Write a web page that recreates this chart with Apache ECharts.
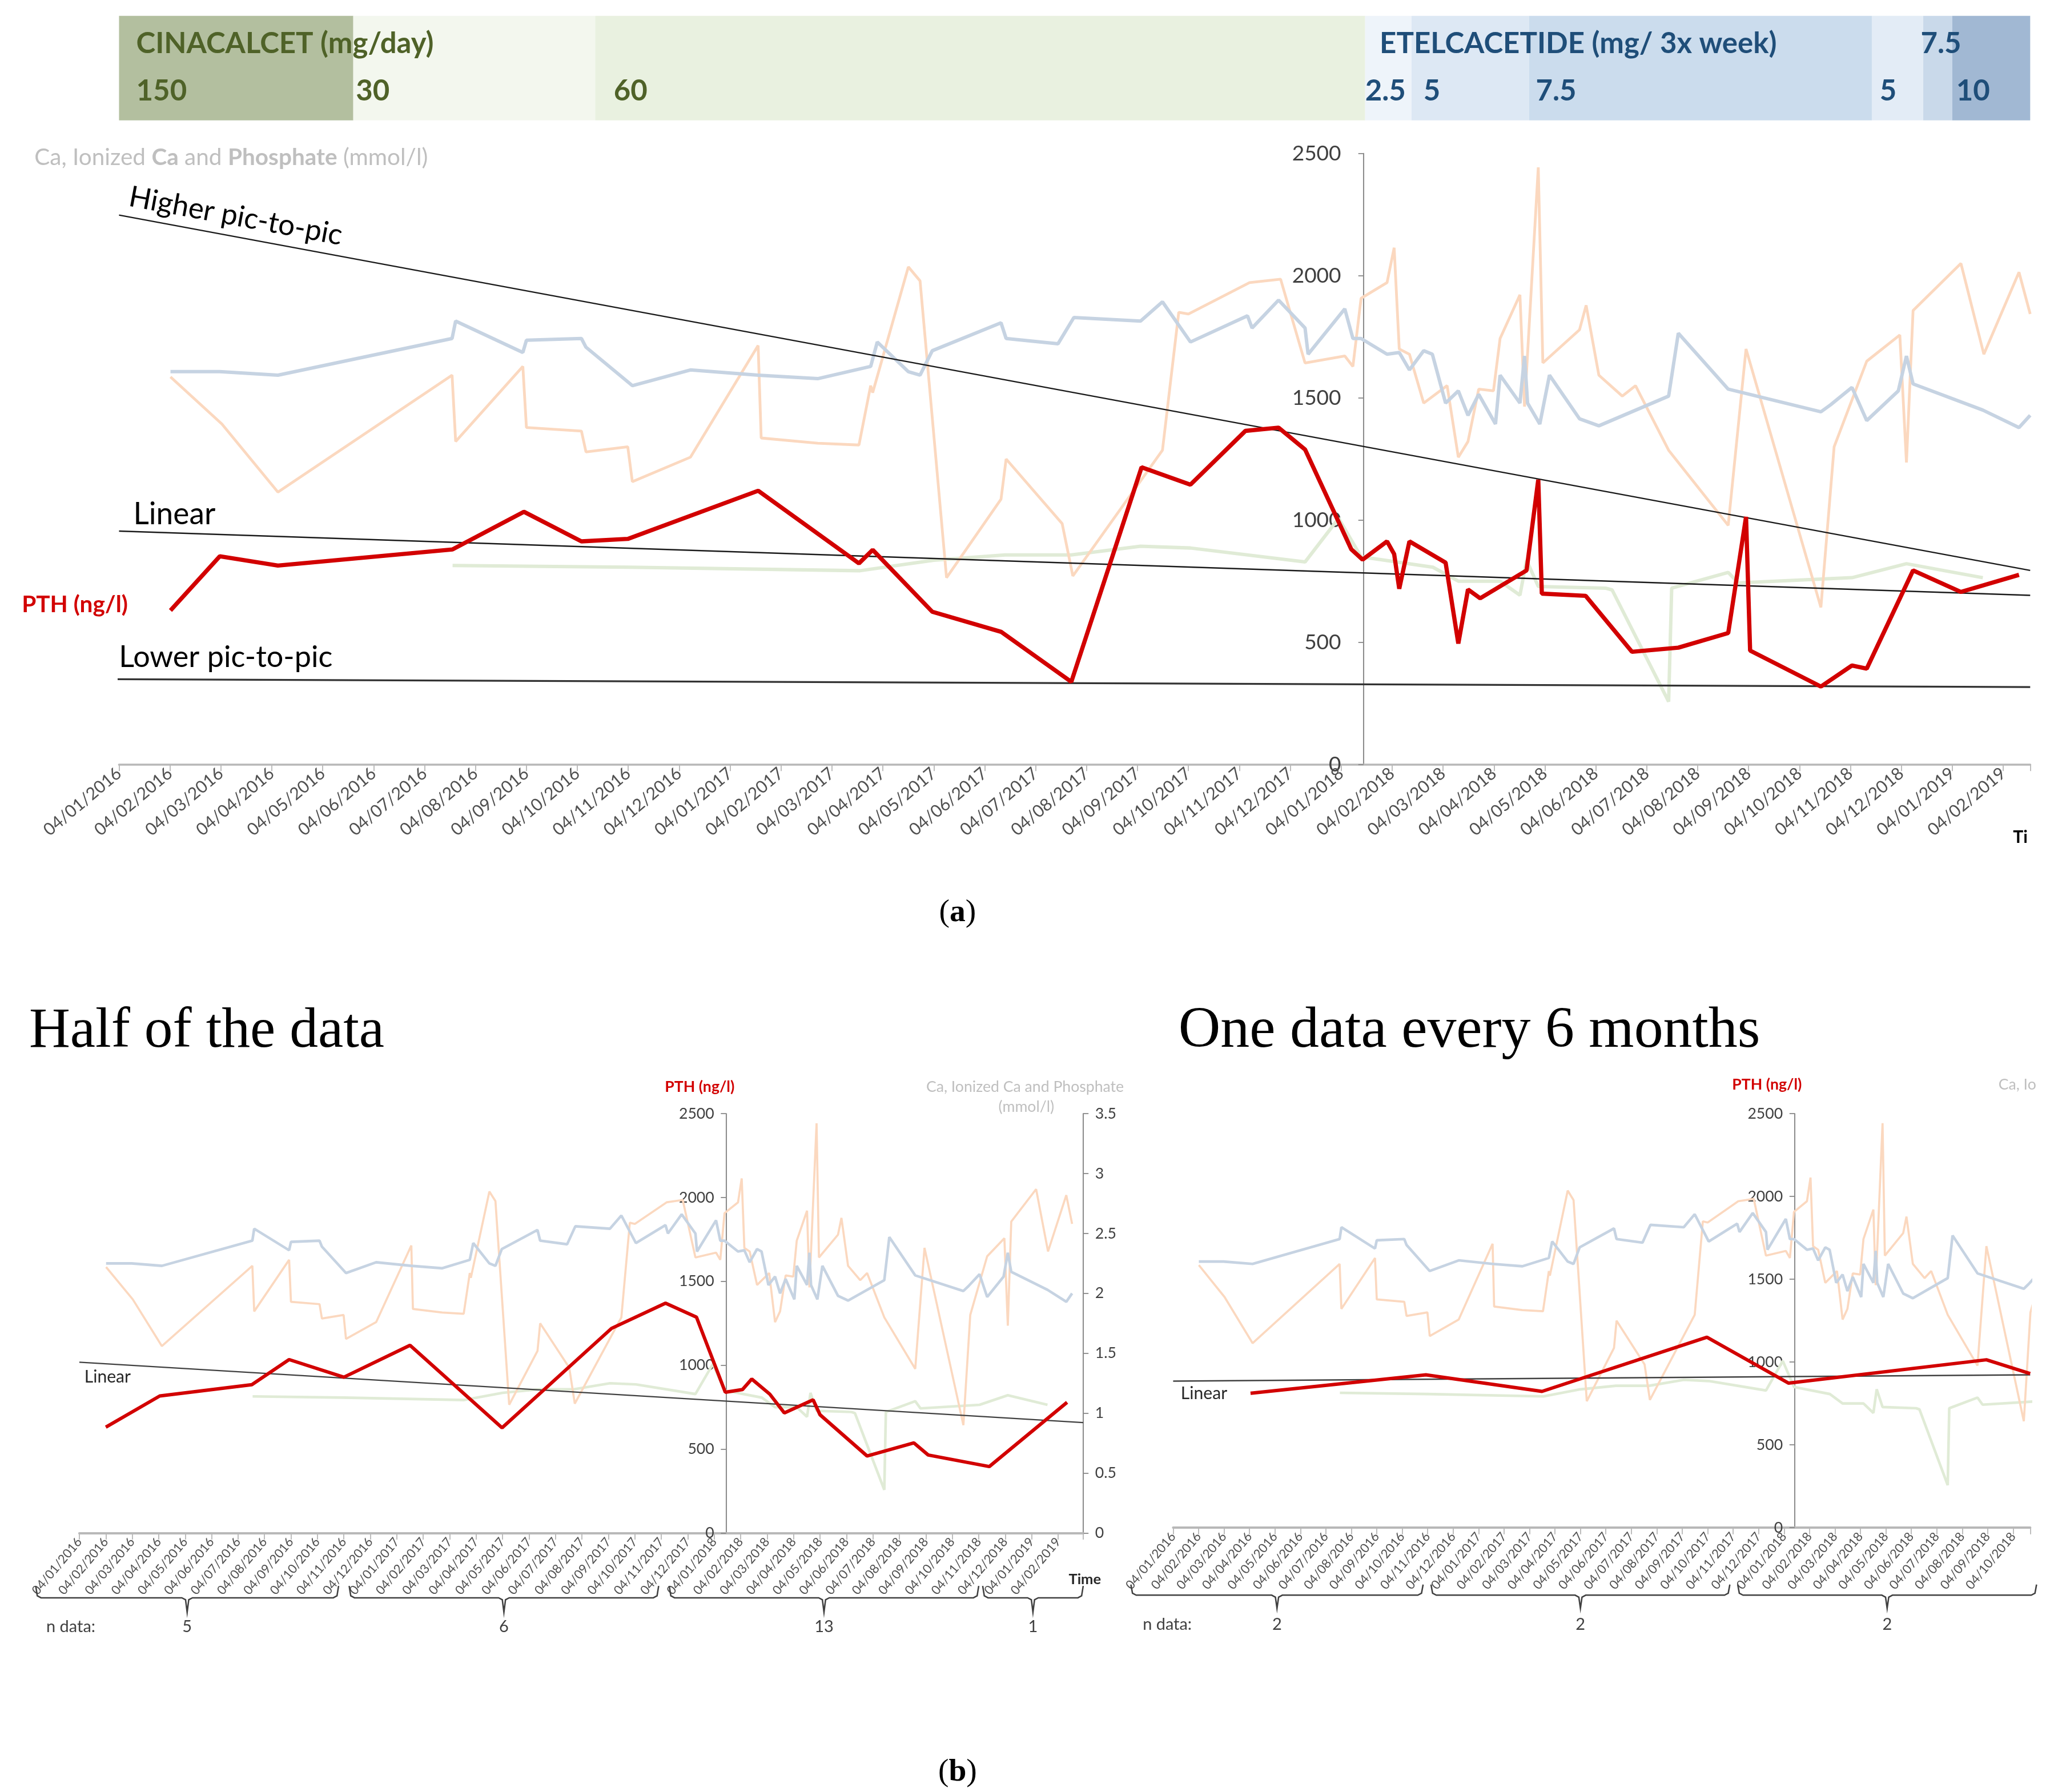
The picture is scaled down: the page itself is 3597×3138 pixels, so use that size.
<!DOCTYPE html>
<html>
<head>
<meta charset="utf-8">
<title>PTH, Ca and phosphate over time</title>
<script src="https://cdn.jsdelivr.net/npm/echarts/dist/echarts.min.js"></script>
<style>html,body{margin:0;padding:0;background:#fff;}#chart{width:3597px;height:3138px;}</style>
</head>
<body>
<div id="chart"></div>
<script>
// ---------------- data (x = months since 04/01/2016) ----------------
const monthTicks = [
  '04/01/2016','04/02/2016','04/03/2016','04/04/2016','04/05/2016','04/06/2016','04/07/2016','04/08/2016','04/09/2016','04/10/2016','04/11/2016','04/12/2016',
  '04/01/2017','04/02/2017','04/03/2017','04/04/2017','04/05/2017','04/06/2017','04/07/2017','04/08/2017','04/09/2017','04/10/2017','04/11/2017','04/12/2017',
  '04/01/2018','04/02/2018','04/03/2018','04/04/2018','04/05/2018','04/06/2018','04/07/2018','04/08/2018','04/09/2018','04/10/2018','04/11/2018','04/12/2018',
  '04/01/2019','04/02/2019'
];
const pthTicks = [0, 500, 1000, 1500, 2000, 2500];
const mmolTicks = [0, 0.5, 1, 1.5, 2, 2.5, 3, 3.5];

const doseBounds = [0, 4.6, 9.35, 24.47, 25.38, 27.69, 34.42, 35.43, 36.0, 37.53];
const doseLabels = ['150', '30', '60', '2.5', '5', '7.5', '5', '7.5', '10'];
const drugNames = ['CINACALCET (mg/day)', 'ETELCACETIDE (mg/ 3x week)'];
const drugFirstSegment = [0, 3];

const pthAll = [[1.01,630],[1.98,852],[3.12,814],[6.55,880],[7.95,1034],[9.08,913],[9.99,923],[12.55,1120],[14.53,823],[14.8,878],[15.97,625],[17.32,543],[18.7,338],[20.08,1216],[21.04,1145],[22.12,1365],[22.77,1378],[23.29,1289],[24.2,880],[24.42,838],[24.9,913],[25.04,861],[25.14,719],[25.34,913],[26.05,826],[26.3,495],[26.49,716],[26.73,680],[27.64,794],[27.87,1165],[27.94,699],[28.8,690],[29.71,461],[30.62,478],[31.6,538],[31.95,1013],[32.03,466],[33.42,319],[34.03,405],[34.32,392],[35.23,794],[36.17,706],[37.31,776]];
const pthHalf = [[1.0,631],[3.04,817],[6.52,884],[7.93,1034],[10.0,929],[12.5,1119],[15.98,627],[20.12,1220],[22.16,1370],[23.33,1287],[24.42,839],[25.07,855],[25.42,918],[26.1,828],[26.65,716],[27.74,794],[28.0,705],[29.78,459],[31.55,537],[32.09,465],[34.4,396],[37.34,779]];
const pthSemester = [[3.04,812],[9.93,923],[14.49,823],[20.97,1150],[24.18,873],[31.95,1014],[33.67,930]];

const totalCa = [[1.01,2.25],[1.98,2.25],[3.12,2.23],[6.54,2.44],[6.61,2.54],[7.93,2.36],[8.0,2.43],[9.08,2.44],[9.17,2.39],[10.08,2.17],[11.22,2.26],[12.55,2.23],[13.72,2.21],[14.76,2.28],[14.89,2.42],[15.5,2.25],[15.73,2.23],[15.97,2.37],[17.32,2.53],[17.42,2.44],[18.44,2.41],[18.75,2.56],[20.06,2.54],[20.49,2.65],[21.04,2.42],[22.16,2.57],[22.25,2.5],[22.77,2.66],[23.29,2.5],[23.35,2.35],[24.07,2.61],[24.23,2.44],[24.39,2.44],[24.9,2.35],[25.14,2.36],[25.34,2.26],[25.62,2.37],[25.79,2.35],[26.05,2.07],[26.3,2.14],[26.49,2.0],[26.7,2.12],[27.03,1.95],[27.12,2.23],[27.51,2.07],[27.6,2.34],[27.66,2.07],[27.9,1.95],[28.09,2.23],[28.68,1.98],[29.06,1.94],[30.43,2.11],[30.62,2.47],[31.6,2.15],[33.42,2.02],[33.61,2.06],[34.03,2.16],[34.32,1.97],[34.94,2.14],[35.1,2.34],[35.23,2.18],[36.6,2.03],[37.31,1.93],[37.53,2.0]];
const phosphate = [[1.01,2.22],[2.02,1.95],[3.12,1.56],[6.54,2.23],[6.61,1.85],[7.93,2.28],[8.0,1.93],[9.08,1.91],[9.17,1.79],[9.99,1.82],[10.08,1.62],[11.22,1.76],[12.55,2.4],[12.61,1.87],[13.72,1.84],[14.53,1.83],[14.76,2.17],[14.8,2.13],[15.5,2.85],[15.73,2.77],[16.25,1.07],[17.32,1.52],[17.42,1.75],[18.52,1.38],[18.73,1.08],[20.49,1.8],[20.81,2.59],[21.0,2.58],[22.2,2.76],[22.81,2.78],[23.29,2.3],[24.07,2.34],[24.23,2.28],[24.39,2.67],[24.9,2.76],[25.04,2.96],[25.14,2.38],[25.34,2.35],[25.62,2.07],[26.08,2.17],[26.3,1.76],[26.49,1.85],[26.7,2.15],[26.99,2.14],[27.12,2.44],[27.51,2.69],[27.6,2.05],[27.87,3.42],[27.96,2.3],[28.68,2.49],[28.81,2.63],[29.06,2.23],[29.52,2.11],[29.78,2.17],[30.43,1.8],[31.6,1.37],[31.95,2.38],[33.42,0.9],[33.68,1.82],[34.32,2.31],[34.97,2.46],[35.1,1.73],[35.23,2.6],[36.17,2.87],[36.62,2.35],[37.31,2.82],[37.53,2.58]];
const ionizedCa = [[6.55,1.14],[10.0,1.13],[14.55,1.11],[16.0,1.17],[17.4,1.2],[18.7,1.2],[20.06,1.25],[21.04,1.24],[23.29,1.16],[23.95,1.41],[24.39,1.19],[25.8,1.13],[26.3,1.05],[27.12,1.05],[27.51,0.97],[27.64,1.17],[27.87,1.02],[29.19,1.01],[29.32,1.0],[30.43,0.36],[30.49,1.01],[31.6,1.1],[31.8,1.04],[34.03,1.07],[35.1,1.15],[36.6,1.07]];

const higherTrend = [[0,2248],[37.53,794]];
const linearTrend = [[0,955],[37.53,692]];
const lowerTrend = [[-0.36,349],[37.53,317]];
const halfLinear = [[0,1018],[37.95,658]];
const semesterLinear = [[0,885],[33.67,923]];

const halfBraceFrom = [-1.65, 10.2, 22.3, 34.15];
const halfBraceTo = [9.8, 21.9, 34.0, 37.95];
const halfCounts = ['5', '6', '13', '1'];
const semBraceFrom = [-1.66, 10.13, 22.18];
const semBraceTo = [9.82, 21.87, 33.92];
const semCounts = ['2', '2', '2'];

// ---------------- styling ----------------
const S = 3597 / 1553;
const px = v => v * S;
const FONT = 'Lato, "Open Sans", "Noto Sans", sans-serif';
const SERIF = '"Liberation Serif", "DejaVu Serif", serif';
const doseColors = ['#b3bf9f', '#f3f7ee', '#e9f1e0', '#eef4fa', '#dde8f4', '#cbdced', '#e3ecf6', '#c9d9ea', '#a1b8d3'];
const doseLabelPad = [13, 2, 14, 0, 9, 5, 6, -2, 3];   // label inset from segment start (layout)
const C = { pth: '#d20000', ca: '#c6d3e2', phos: '#fbd8bf', ion: '#e0ebd6', axis: '#8c8c8c', xaxis: '#b8b8b8', text: '#404040', faint: '#bfbfbf' };

const tickLabel = v => { const r = Math.round(v); return (Math.abs(v - r) < 1e-6 && monthTicks[r]) ? monthTicks[r] : ''; };
const plainNum = v => String(v);

const chart = echarts.init(document.getElementById('chart'), null, { renderer: 'canvas' });

function grid(l, t, w, h) { return { left: px(l), top: px(t), width: px(w), height: px(h), containLabel: false, outerBoundsMode: 'none' }; }

function xAxisCfg(gi, max, fs, rot, lw) {
  return { type: 'value', gridIndex: gi, min: 0, max: max, interval: 1,
    axisLine: { show: true, onZero: false, lineStyle: { color: C.xaxis, width: px(lw) } },
    axisTick: { show: true, length: px(5), lineStyle: { color: C.xaxis, width: px(0.8) } },
    axisLabel: { show: true, rotate: rot, fontSize: px(fs), color: '#505050', fontFamily: FONT, margin: px(5), formatter: tickLabel, showMaxLabel: true, hideOverlap: false },
    splitLine: { show: false } };
}
function pthAxis(gi, offset, fs, margin) {
  return { type: 'value', gridIndex: gi, min: pthTicks[0], max: pthTicks[pthTicks.length - 1], interval: pthTicks[1] - pthTicks[0],
    position: 'left', offset: -px(offset),
    axisLine: { show: true, onZero: false, lineStyle: { color: C.axis, width: px(0.9) } },
    axisTick: { show: true, length: px(4), lineStyle: { color: C.axis, width: px(0.8) } },
    axisLabel: { fontSize: px(fs), color: C.text, fontFamily: FONT, margin: px(margin), formatter: plainNum },
    splitLine: { show: false } };
}
function mmolAxis(gi, visible) {
  return { type: 'value', gridIndex: gi, min: mmolTicks[0], max: mmolTicks[mmolTicks.length - 1], interval: mmolTicks[1] - mmolTicks[0],
    position: 'right', show: visible,
    axisLine: { show: true, onZero: false, lineStyle: { color: C.axis, width: px(0.9) } },
    axisTick: { show: true, length: px(4), lineStyle: { color: C.axis, width: px(0.8) } },
    axisLabel: { fontSize: px(11.5), color: C.text, fontFamily: FONT, margin: px(9), formatter: plainNum },
    splitLine: { show: false } };
}

function bgSeries(xi, yi, w) {
  const base = { type: 'line', xAxisIndex: xi, yAxisIndex: yi, symbol: 'none', showSymbol: false, silent: true };
  return [
    Object.assign({}, base, { name: 'Ionized Ca', data: ionizedCa, z: 2, lineStyle: { color: C.ion, width: px(w) } }),
    Object.assign({}, base, { name: 'Phosphate', data: phosphate, z: 3, lineStyle: { color: C.phos, width: px(w * 0.8) } }),
    Object.assign({}, base, { name: 'Ca', data: totalCa, z: 4, lineStyle: { color: C.ca, width: px(w) } })
  ];
}
function labeledLine(xi, yi, data, color, width, z, labelCfg, clip) {
  return { type: 'line', xAxisIndex: xi, yAxisIndex: yi, silent: true, symbol: 'circle', symbolSize: 1, showSymbol: true, showAllSymbol: true, clip: clip,
    z: z, lineStyle: { color: color, width: px(width) }, itemStyle: { color: 'rgba(0,0,0,0)', borderWidth: 0 },
    label: { show: false },
    data: data.map((d, i) => i === 0 ? { value: d, label: Object.assign({ show: true, fontFamily: FONT }, labelCfg) } : { value: d }) };
}

const option = {
  animation: false,
  backgroundColor: '#ffffff',
  textStyle: { fontFamily: FONT },
  grid: [ grid(90, 12, 1445, 79), grid(90, 116, 1445, 462), grid(60, 842, 759, 317), grid(887, 842, 648, 313) ],
  xAxis: [
    { type: 'value', gridIndex: 0, min: 0, max: 37.53, show: false },
    xAxisCfg(1, 37.53, 13, 40, 1.6),
    xAxisCfg(2, 37.95, 9.5, 50, 1.8),
    xAxisCfg(3, 33.67, 9.5, 50, 1.8)
  ],
  yAxis: [
    { type: 'value', gridIndex: 0, min: 0, max: 1, show: false },
    pthAxis(1, 1031 - 90, 16, 17),
    mmolAxis(1, false),
    pthAxis(2, 549 - 60, 11.5, 9),
    mmolAxis(2, true),
    pthAxis(3, 1357 - 887, 11.5, 9),
    mmolAxis(3, false)
  ],
  series: [
    { type: 'custom', xAxisIndex: 0, yAxisIndex: 0, silent: true, clip: false,
      data: doseLabels.map((d, i) => [doseBounds[i], doseBounds[i + 1], i]),
      renderItem: function (params, api) {
        const i = api.value(2);
        const p0 = api.coord([api.value(0), 1]);
        const p1 = api.coord([api.value(1), 0]);
        const w = p1[0] - p0[0];
        const row1 = api.coord([0, 0.734])[1];
        const row2 = api.coord([0, 0.278])[1];
        const col = i < 3 ? '#4f6228' : '#1f4e79';
        const tStyle = (text) => ({ text: text, fill: col, fontSize: px(22), fontWeight: 'bold', fontFamily: FONT, align: 'left', textAlign: 'left', verticalAlign: 'middle', textVerticalAlign: 'middle' });
        const children = [{ type: 'rect', shape: { x: p0[0], y: p0[1], width: w, height: p1[1] - p0[1] }, style: { fill: doseColors[i] } }];
        const row = w < px(30) ? row1 : row2;
        children.push({ type: 'text', x: p0[0] + px(doseLabelPad[i]), y: row, style: tStyle(doseLabels[i]), z2: 10 });
        const di = drugFirstSegment.indexOf(i);
        if (di >= 0) children.push({ type: 'text', x: p0[0] + px(di === 0 ? 13 : 11), y: row1, style: tStyle(drugNames[di]), z2: 10 });
        return { type: 'group', children: children };
      } },

    // ----- panel (a)
    ...bgSeries(1, 2, 2.6),
    labeledLine(1, 1, higherTrend, '#1a1a1a', 1.0, 6, { formatter: 'Higher pic-to-pic', color: '#000', fontSize: px(22), position: [px(6), px(-3)], align: 'left', verticalAlign: 'bottom', rotate: -10.5 }, true),
    labeledLine(1, 1, linearTrend, '#1a1a1a', 1.1, 6, { formatter: 'Linear', color: '#000', fontSize: px(23), position: [px(11), px(-1)], align: 'left', verticalAlign: 'bottom' }, true),
    labeledLine(1, 1, lowerTrend, '#333333', 1.4, 6, { formatter: 'Lower pic-to-pic', color: '#000', fontSize: px(22.5), position: [px(14), px(-5)], align: 'left', verticalAlign: 'bottom' }, false),
    labeledLine(1, 1, pthAll, C.pth, 3.2, 8, { formatter: 'PTH (ng/l)', color: C.pth, fontWeight: 'bold', fontSize: px(17.5), position: [px(-32), px(-4)], align: 'right', verticalAlign: 'middle' }, true),

    // ----- panel (b) half of the data
    ...bgSeries(2, 4, 2.0),
    labeledLine(2, 3, halfLinear, '#404040', 1.0, 6, { formatter: 'Linear', color: '#262626', fontSize: px(13), position: [px(4), px(5)], align: 'left', verticalAlign: 'top' }, true),
    labeledLine(2, 3, pthHalf, C.pth, 2.6, 8, { show: false }, true),

    // ----- panel (b) one data every 6 months
    ...bgSeries(3, 6, 2.0),
    labeledLine(3, 5, semesterLinear, '#404040', 1.0, 6, { formatter: 'Linear', color: '#262626', fontSize: px(13), position: [px(6), px(3)], align: 'left', verticalAlign: 'top' }, true),
    labeledLine(3, 5, pthSemester, C.pth, 2.6, 8, { show: false }, true)
  ]
};
chart.setOption(option);

// ---------------- annotations ----------------
function txt(x, y, text, o) {
  o = o || {};
  const style = Object.assign({ text: text, fill: o.color || C.text, fontSize: px(o.size || 12), fontFamily: o.family || FONT,
    fontWeight: o.weight || 'normal', align: o.align || 'left', textAlign: o.align || 'left',
    verticalAlign: 'middle', textVerticalAlign: 'middle' }, o.extra || {});
  return { type: 'text', x: px(x), y: px(y), silent: true, z: 100, style: style };
}
function brace(x0, x1, yTop, yLine, yBot) {
  const u = px(1), xc = (x0 + x1) / 2;
  return { type: 'polyline', silent: true, z: 100,
    shape: { points: [[x0, yTop], [x0 + 1.2 * u, yLine - 1.5 * u], [x0 + 4 * u, yLine], [xc - 4 * u, yLine], [xc - 1.2 * u, yLine + 1.5 * u], [xc, yBot],
      [xc + 1.2 * u, yLine + 1.5 * u], [xc + 4 * u, yLine], [x1 - 4 * u, yLine], [x1 - 1.2 * u, yLine - 1.5 * u], [x1, yTop]] },
    style: { stroke: '#404040', lineWidth: px(1.1), fill: null } };
}
const xp = (ai, m) => chart.convertToPixel({ xAxisIndex: ai }, m);
const boldRich = (size, family, color) => ({ b: { fontWeight: 'bold', fontSize: px(size), fontFamily: family, fill: color, color: color } });

const elements = [
  txt(724, 690, '({b|a})', { size: 24, family: SERIF, color: '#000', align: 'center', extra: { rich: boldRich(24, SERIF, '#000') } }),
  txt(724, 1340, '({b|b})', { size: 24, family: SERIF, color: '#000', align: 'center', extra: { rich: boldRich(24, SERIF, '#000') } }),
  txt(22, 780, 'Half of the data', { size: 43, family: SERIF, color: '#000' }),
  txt(891, 780, 'One data every 6 months', { size: 44, family: SERIF, color: '#000' }),
  txt(26, 119, 'Ca, Ionized {b|Ca} and {b|Phosphate} (mmol/l)', { size: 17.5, color: C.faint, extra: { rich: boldRich(17.5, FONT, C.faint) } }),
  txt(1522, 633, 'Time', { size: 13, weight: 'bold', color: '#000', extra: { width: px(16), overflow: 'truncate', ellipsis: '' } }),
  txt(529, 822, 'PTH (ng/l)', { size: 11.5, weight: 'bold', color: C.pth, align: 'center' }),
  txt(775, 822, 'Ca, Ionized Ca and Phosphate', { size: 11.5, color: C.faint, align: 'center' }),
  txt(776, 837, '(mmol/l)', { size: 11.5, color: C.faint, align: 'center' }),
  txt(808, 1194, 'Time', { size: 11, weight: 'bold', color: '#262626' }),
  txt(1336, 820, 'PTH (ng/l)', { size: 11.5, weight: 'bold', color: C.pth, align: 'center' }),
  txt(1511, 820, 'Ca, Ionized Ca and Phosphate', { size: 11.5, color: C.faint, extra: { width: px(35), overflow: 'truncate', ellipsis: '' } }),
  txt(35, 1230, 'n data:', { size: 12.5 }),
  txt(864, 1228, 'n data:', { size: 12.5 })
];
halfCounts.forEach((n, i) => {
  const a = xp(2, halfBraceFrom[i]), b = xp(2, halfBraceTo[i]);
  elements.push(brace(a, b, px(1199), px(1208), px(1219)));
  elements.push({ type: 'text', x: (a + b) / 2, y: px(1230), silent: true, z: 100,
    style: { text: n, fill: C.text, fontSize: px(12.5), fontFamily: FONT, align: 'center', textAlign: 'center', verticalAlign: 'middle', textVerticalAlign: 'middle' } });
});
semCounts.forEach((n, i) => {
  const a = xp(3, semBraceFrom[i]), b = xp(3, semBraceTo[i]);
  elements.push(brace(a, b, px(1198), px(1206), px(1216)));
  elements.push({ type: 'text', x: (a + b) / 2, y: px(1228), silent: true, z: 100,
    style: { text: n, fill: C.text, fontSize: px(12.5), fontFamily: FONT, align: 'center', textAlign: 'center', verticalAlign: 'middle', textVerticalAlign: 'middle' } });
});
chart.setOption({ graphic: { elements: elements } });
</script>
</body>
</html>
